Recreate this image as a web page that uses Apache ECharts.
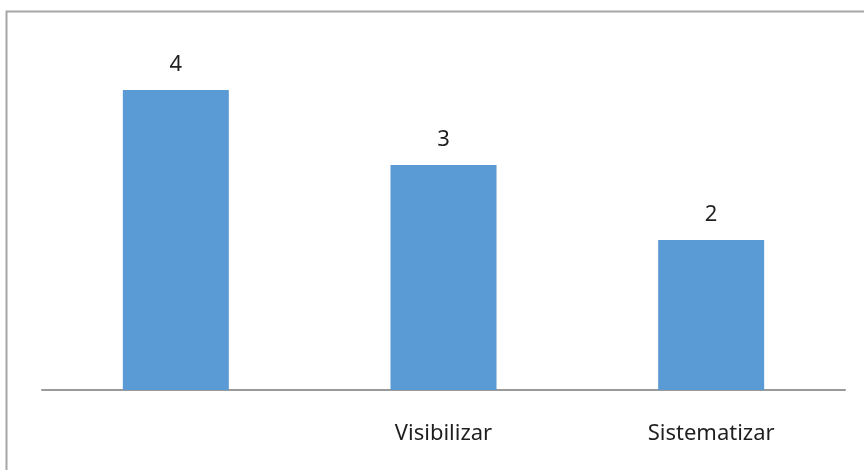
<!DOCTYPE html>
<html>
<head>
<meta charset="utf-8">
<script src="https://cdn.jsdelivr.net/npm/echarts@6/dist/echarts.min.js"></script>
<style>
  html, body { margin: 0; padding: 0; background: #fff; }
  #chart { width: 864px; height: 470px; }
</style>
</head>
<body>
<div id="chart"></div>
<script>
const categories = ['', 'Visibilizar', 'Sistematizar']
const values = [4, 3, 2]

const myChart = echarts.init(document.getElementById('chart'))

const option = {
  backgroundColor: '#fff',
  animation: false,
  graphic: [
    {
      type: 'rect',
      left: 4,
      top: 9,
      shape: { width: 900, height: 500 },
      style: { fill: 'none', stroke: '#a6a6a6', lineWidth: 2 },
      silent: true,
    },
  ],
  grid: {
    left: 42,
    right: 19,
    top: 90,
    bottom: 80,
  },
  xAxis: {
    type: 'category',
    data: categories,
    axisTick: { show: false },
    axisLine: { lineStyle: { color: '#9a9a9a', width: 2 } },
    axisLabel: {
      color: '#1f1f1f',
      fontFamily: 'Noto Sans',
      fontSize: 22,
      margin: 33,
    },
  },
  yAxis: {
    type: 'value',
    min: 0,
    max: 4,
    show: false,
    splitLine: { show: false },
  },
  series: [
    {
      type: 'bar',
      data: values,
      barWidth: 106,
      itemStyle: { color: '#5b9bd5' },
      label: {
        show: true,
        position: 'top',
        distance: 14,
        color: '#1f1f1f',
        fontFamily: 'Noto Sans',
        fontSize: 22,
      },
    },
  ],
}

myChart.setOption(option)
</script>
</body>
</html>
